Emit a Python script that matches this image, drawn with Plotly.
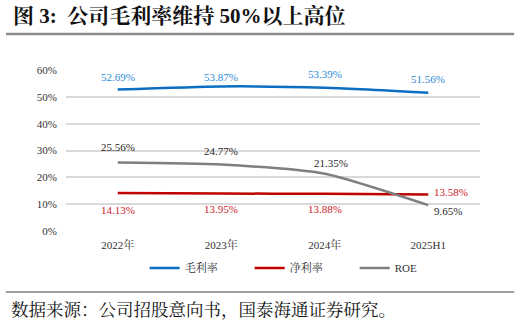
import plotly.graph_objects as go

categories = ["2022年", "2023年", "2024年", "2025H1"]
gross_margin = [52.69, 53.87, 53.39, 51.56]
net_margin = [14.13, 13.95, 13.88, 13.58]
roe = [25.56, 24.77, 21.35, 9.65]
y_ticks = [0, 10, 20, 30, 40, 50, 60]
y_tick_labels = [f"{v}%" for v in y_ticks]

SERIF = "Liberation Serif, Noto Serif CJK SC, Noto Sans CJK SC, serif"

# label offsets (pixels) per series point: (xshift, yshift)
gm_off = [(0, 13), (0, 9), (0, 14), (0, 14)]
nm_off = [(0, -17), (0, -15), (0, -15), (23, 3)]
roe_off = [(0, 15), (0, 14), (6, 11), (20, -6)]

series = [
    ("毛利率", gross_margin, "#0A6FC2", "#2B8AD6", gm_off),
    ("净利率", net_margin, "#C00000", "#D0202A", nm_off),
    ("ROE", roe, "#7F7F7F", "#262626", roe_off),
]

fig = go.Figure()
for name, vals, lc, tc, offs in series:
    fig.add_trace(go.Scatter(
        x=categories, y=vals, name=name, mode="lines",
        line=dict(color=lc, width=2.5, shape="spline", smoothing=0.6),
    ))
    for c, v, (dx, dy) in zip(categories, vals, offs):
        fig.add_annotation(x=c, y=v, xref="x", yref="y", text=f"{v:.2f}%",
                           showarrow=False, xshift=dx, yshift=dy,
                           xanchor="center", yanchor="middle",
                           font=dict(color=tc, size=11, family=SERIF))

fig.update_layout(
    width=522, height=323,
    margin=dict(l=66, r=42, t=70, b=92),
    paper_bgcolor="white", plot_bgcolor="white",
    font=dict(family=SERIF, size=11, color="#333"),
    showlegend=True,
    legend=dict(orientation="h", x=0.19, xanchor="left", y=-0.14, yanchor="top",
                font=dict(size=11, family=SERIF, color="#333"),
                entrywidth=60, entrywidthmode="pixels",
                traceorder="normal"),
    xaxis=dict(showgrid=False, showline=False, ticks="", tickfont=dict(size=11, color="#333"),
               range=[-0.5, 3.5], ticklabelstandoff=6),
    yaxis=dict(range=[0, 60], tickvals=y_ticks, ticktext=y_tick_labels,
               showgrid=True, gridcolor="#D9D9D9", gridwidth=1.5, zeroline=False,
               ticks="", tickfont=dict(size=11, color="#333"), showline=False,
               ticklabelstandoff=8),
)

fig.add_annotation(xref="paper", yref="paper", x=-0.132, y=1.335, xanchor="left", yanchor="middle",
                   text="<b>图 3:  公司毛利率维持 50%以上高位</b>", showarrow=False,
                   font=dict(size=21, color="#111", family=SERIF))
fig.add_annotation(xref="paper", yref="paper", x=-0.137, y=-0.49, xanchor="left", yanchor="middle",
                   text="数据来源：公司招股意向书，国泰海通证券研究。", showarrow=False,
                   font=dict(size=17.5, color="#111", family=SERIF))
fig.add_shape(type="line", xref="paper", yref="paper", x0=-0.145, x1=1.0825, y0=1.224, y1=1.224,
              line=dict(color="#8C8C8C", width=2.5))
fig.add_shape(type="line", xref="paper", yref="paper", x0=-0.145, x1=1.0825, y0=-0.379, y1=-0.379,
              line=dict(color="#404040", width=1))

fig.write_html("out.html")
